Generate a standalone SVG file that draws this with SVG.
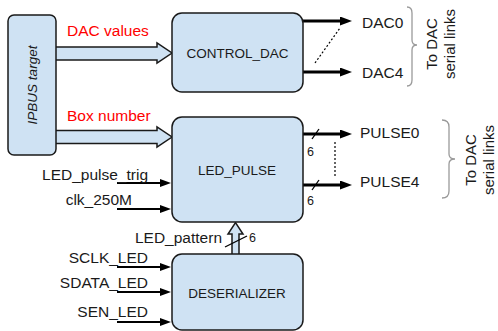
<svg xmlns="http://www.w3.org/2000/svg" width="498" height="331" viewBox="0 0 498 331">
  <defs>
    <style>
      .box { fill: #cfe2f3; stroke: #1a1a1a; stroke-width: 1.5; }
      .bus { fill: #cfe2f3; stroke: #1a1a1a; stroke-width: 1.5; stroke-linejoin: miter; }
      .thick { stroke: #000; stroke-width: 3; fill: none; }
      .thin { stroke: #000; stroke-width: 2; fill: none; }
      .slash { stroke: #000; stroke-width: 1.3; fill: none; }
      .dots { stroke: #000; stroke-width: 1.2; stroke-dasharray: 2 2; fill: none; }
      .brace { stroke: #9a9a9a; stroke-width: 1.3; fill: none; }
      text { font-family: "Liberation Sans", Arial, sans-serif; fill: #1a1a1a; }
      .lbl { font-size: 15.5px; }
      .name { font-size: 13.5px; text-anchor: middle; }
      .red { font-size: 15.5px; fill: #ff0000; }
      .num { font-size: 12.5px; }
      .side { font-size: 15px; text-anchor: middle; }
    </style>
    <marker id="headBig" markerUnits="userSpaceOnUse" markerWidth="13" markerHeight="10" refX="1" refY="4.5" orient="auto">
      <path d="M0,0 L12,4.5 L0,9 Z" fill="#000"/>
    </marker>
    <marker id="headSmall" markerUnits="userSpaceOnUse" markerWidth="11" markerHeight="9" refX="1" refY="4" orient="auto">
      <path d="M0,0 L11,4 L0,8 Z" fill="#000"/>
    </marker>
  </defs>

  <!-- connectors -->
  <g id="connectors">
    <!-- register buses from the IPbus target -->
    <path class="bus" d="M56,47 H157 V43 L172,53 L157,63 V60 H56"/>
    <path class="bus" d="M56,130.5 H157 V127 L172,137 L157,147 V143.5 H56"/>

    <!-- DAC serial outputs -->
    <line class="thick" x1="303" y1="21" x2="341" y2="21" marker-end="url(#headBig)"/>
    <line class="thick" x1="303" y1="72" x2="341" y2="72" marker-end="url(#headBig)"/>
    <line class="dots" x1="315" y1="63" x2="340" y2="28"/>

    <!-- pulse outputs, 6 bits each -->
    <line class="thick" x1="303" y1="134" x2="341" y2="134" marker-end="url(#headBig)"/>
    <line class="slash" x1="312" y1="139" x2="319" y2="129"/>
    <line class="thick" x1="303" y1="185" x2="341" y2="185" marker-end="url(#headBig)"/>
    <line class="slash" x1="312" y1="190" x2="319" y2="180"/>
    <line class="dots" x1="335" y1="142" x2="335" y2="178"/>

    <!-- single-bit inputs -->
    <line class="thin" x1="117" y1="183" x2="161" y2="183" marker-end="url(#headSmall)"/>
    <line class="thin" x1="117" y1="209" x2="161" y2="209" marker-end="url(#headSmall)"/>
    <line class="thin" x1="117" y1="267" x2="161" y2="267" marker-end="url(#headSmall)"/>
    <line class="thin" x1="117" y1="292" x2="161" y2="292" marker-end="url(#headSmall)"/>
    <line class="thin" x1="117" y1="322" x2="161" y2="322" marker-end="url(#headSmall)"/>

    <!-- LED pattern bus, deserializer to pulse block -->
    <path class="bus" d="M232,254 V234 H228 L235.5,222.5 L243,234 H239 V254"/>
    <line class="slash" x1="225" y1="247" x2="247" y2="236"/>

    <!-- grouping braces -->
    <path class="brace" d="M407,7 Q412,7 412,13 V40 Q412,45 417,45 Q412,45 412,50 V80 Q412,86 407,86"/>
    <path class="brace" d="M442,120 Q449,120 449,127 V154 Q449,159 455,159 Q449,159 449,164 V191 Q449,198 442,198"/>
  </g>

  <!-- connector labels -->
  <g id="labels">
    <text class="red" x="67" y="36">DAC values</text>
    <text class="red" x="67" y="121">Box number</text>

    <text class="lbl" x="362" y="27.5">DAC0</text>
    <text class="lbl" x="362" y="77.5">DAC4</text>
    <text class="lbl" x="360" y="138">PULSE0</text>
    <text class="lbl" x="360" y="187">PULSE4</text>
    <text class="num" x="307" y="156">6</text>
    <text class="num" x="307" y="205">6</text>

    <text class="lbl" x="148" y="180" text-anchor="end">LED_pulse_trig</text>
    <text class="lbl" x="132" y="205" text-anchor="end">clk_250M</text>
    <text class="lbl" x="222" y="243" text-anchor="end">LED_pattern</text>
    <text class="num" x="249" y="242">6</text>
    <text class="lbl" x="148" y="263" text-anchor="end">SCLK_LED</text>
    <text class="lbl" x="148" y="288" text-anchor="end">SDATA_LED</text>
    <text class="lbl" x="148" y="317" text-anchor="end">SEN_LED</text>

    <text class="side" transform="translate(437,44) rotate(-90)">To DAC</text>
    <text class="side" transform="translate(455,44) rotate(-90)">serial links</text>
    <text class="side" transform="translate(476,160) rotate(-90)">To DAC</text>
    <text class="side" transform="translate(494,160) rotate(-90)">serial links</text>
  </g>

  <!-- blocks -->
  <g id="ipbus_target">
    <rect class="box" x="8" y="15" width="48" height="140" rx="6"/>
    <text class="name" font-style="italic" transform="translate(37,85) rotate(-90)">IPBUS target</text>
  </g>
  <g id="control_dac">
    <rect class="box" x="172" y="13" width="131" height="79" rx="10"/>
    <text class="name" x="237.5" y="58">CONTROL_DAC</text>
  </g>
  <g id="led_pulse">
    <rect class="box" x="172" y="117" width="131" height="105" rx="10"/>
    <text class="name" x="237" y="175">LED_PULSE</text>
  </g>
  <g id="deserializer">
    <rect class="box" x="172" y="254" width="131" height="76" rx="10"/>
    <text class="name" x="237" y="298">DESERIALIZER</text>
  </g>
</svg>
